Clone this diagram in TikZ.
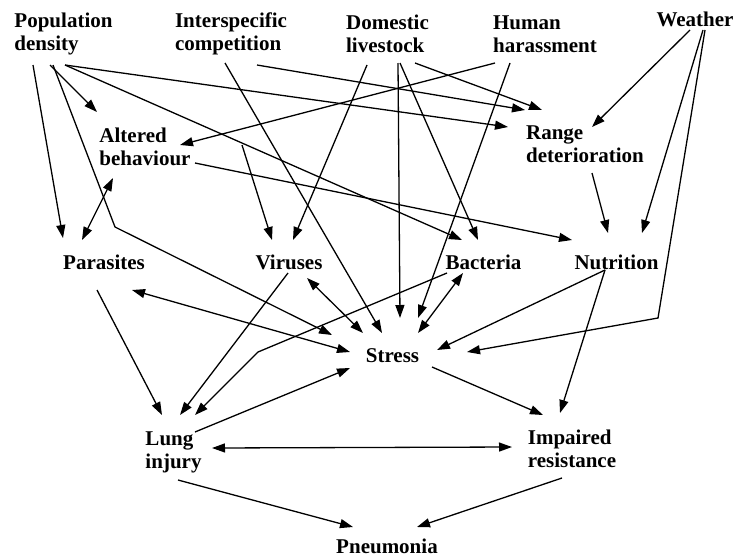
\documentclass[tikz,border=0pt]{standalone}
\usepackage{fontspec}
\setmainfont{Liberation Serif}
\usetikzlibrary{arrows.meta, calc}

\begin{document}
\begin{tikzpicture}[x=1pt, y=-1pt,
  factor/.style={font=\fontsize{21}{23}\selectfont\bfseries, align=left, inner sep=0pt},
  arr/.style={line width=1.3pt, -{Triangle[length=13pt, width=9pt]}},
  dbl/.style={line width=1.3pt, {Triangle[length=13pt, width=9pt]}-{Triangle[length=13pt, width=9pt]}},
]
\useasboundingbox (0,0) rectangle (735,557);

% Top row: outside factors
\node[factor] (pop) at (63.5,34) {Population\\density};
\node[factor] (inter) at (231,34) {Interspecific\\competition};
\node[factor] (dom) at (387.5,34) {Domestic\\livestock};
\node[factor] (hum) at (545,34) {Human\\harassment};
\node[factor] (wea) at (695,19) {Weather};

% Second row
\node[factor] (alt) at (145,147) {Altered\\behaviour};
\node[factor] (ran) at (585,144) {Range\\deterioration};

% Third row
\node[factor] (par) at (104,262) {Parasites};
\node[factor] (vir) at (289,262) {Viruses};
\node[factor] (bac) at (483.5,262) {Bacteria};
\node[factor] (nut) at (616.5,262) {Nutrition};

% Lower part
\node[factor] (str) at (392.5,356) {Stress};
\node[factor] (lung) at (173.5,452) {Lung\\injury};
\node[factor] (imp) at (572,449) {Impaired\\resistance};
\node[factor] (pne) at (387,546) {Pneumonia};

% Population density
\draw[arr] ($(pop)+(-30.5,31)$) -- ($(par)+(-41,-24)$);
\draw[arr] ($(pop)+(-13.5,31)$) -- ($(alt)+(-48,-35)$);
\draw[arr] ($(pop)+(-10.5,31)$) -- (115,227) -- ($(str)+(-60.5,-21)$);
\draw[arr] ($(pop)+(1.5,31)$) -- ($(ran)+(-77,-17)$);
\draw[arr] ($(pop)+(1.5,31)$) -- ($(bac)+(-21.5,-22)$);

% Interspecific competition
\draw[arr] ($(inter)+(26,31)$) -- ($(ran)+(-60,-34)$);
\draw[arr] ($(inter)+(-6,29)$) -- ($(str)+(-10.5,-23)$);

% Domestic livestock
\draw[arr] ($(dom)+(-20.5,31)$) -- ($(vir)+(4,-22)$);
\draw[arr] ($(dom)+(10.5,29)$) -- ($(str)+(7.5,-38)$);
\draw[arr] ($(dom)+(12.5,29)$) -- ($(bac)+(-5.5,-22)$);
\draw[arr] ($(dom)+(27.5,29)$) -- ($(ran)+(-43,-34)$);

% Human harassment
\draw[arr] ($(hum)+(-50,29)$) -- ($(alt)+(35,-2)$);
\draw[arr] ($(hum)+(-35,29)$) -- ($(str)+(25.5,-38)$);

% Weather
\draw[arr] ($(wea)+(-5,11)$) -- ($(ran)+(7,-17)$);
\draw[arr] ($(wea)+(8,11)$) -- ($(nut)+(25.5,-29)$);
\draw[arr] ($(wea)+(10,11)$) -- (658,318) -- ($(str)+(74.5,-4)$);

% Altered behaviour and range
\draw[arr] ($(alt)+(50,16)$) -- ($(nut)+(-44.5,-22)$);
\draw[dbl] ($(par)+(-22,-22)$) -- ($(alt)+(-32,31)$);
\draw[arr] ($(alt)+(97,-2)$) -- ($(vir)+(-17,-22)$);
\draw[arr] ($(ran)+(7,29)$) -- ($(nut)+(-8.5,-29)$);

% Pathogens and nutrition
\draw[dbl] ($(vir)+(18,16)$) -- ($(str)+(-29.5,-23)$);
\draw[arr] ($(vir)+(-1,11)$) -- ($(lung)+(6.5,-37)$);
\draw[dbl] ($(bac)+(-20.5,11)$) -- ($(str)+(25.5,-23)$);
\draw[arr] ($(bac)+(-36.5,11)$) -- (258,352) -- ($(lung)+(21.5,-37)$);
\draw[arr] ($(nut)+(-11.5,8)$) -- ($(str)+(44.5,-6)$);
\draw[arr] ($(nut)+(-11.5,8)$) -- ($(imp)+(-12,-36)$);
\draw[dbl] ($(par)+(28,28)$) -- ($(str)+(-42.5,-4)$);
\draw[arr] ($(par)+(-7,28)$) -- ($(lung)+(-11.5,-37)$);

% Stress, lung injury, resistance
\draw[arr] ($(str)+(39.5,11)$) -- ($(imp)+(-29,-34)$);
\draw[arr] ($(lung)+(21.5,-20)$) -- ($(str)+(-42.5,12)$);
\draw[dbl] ($(lung)+(38.5,-4)$) -- ($(imp)+(-60,-2)$);
\draw[arr] ($(lung)+(4.5,28)$) -- ($(pne)+(-34,-19)$);
\draw[arr] ($(imp)+(-10,29)$) -- ($(pne)+(30,-19)$);
\end{tikzpicture}
\end{document}
